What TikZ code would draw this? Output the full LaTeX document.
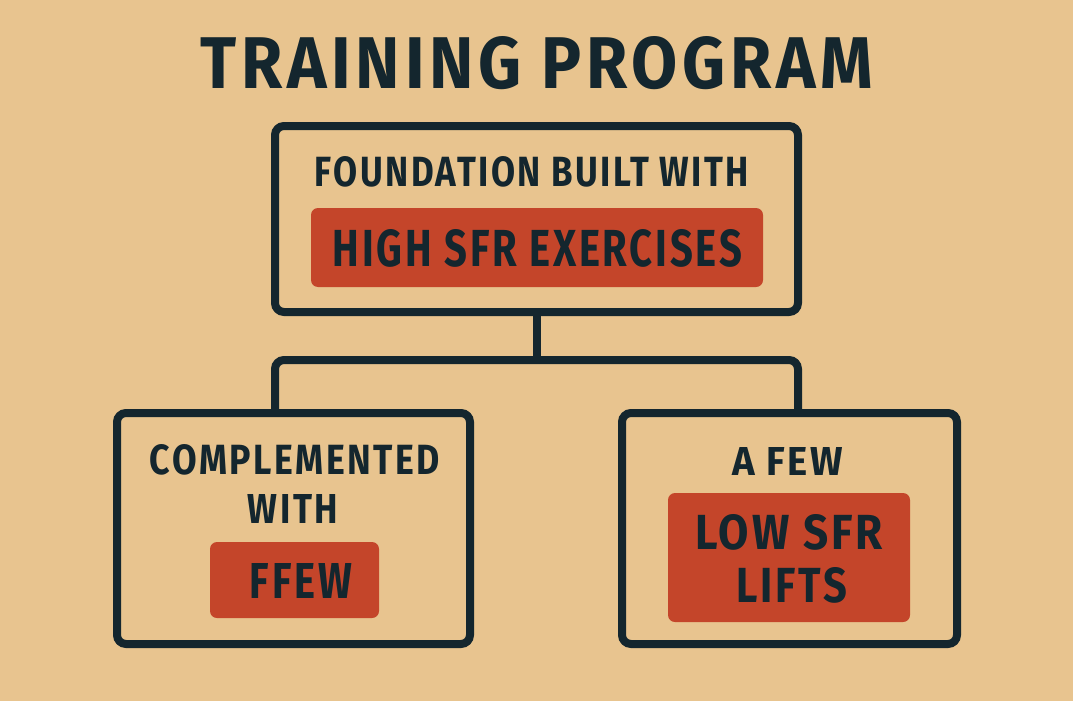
\documentclass[tikz,border=0pt]{standalone}
\usepackage{fontspec}
\setmainfont{Fira Sans}[BoldFont={Fira Sans Bold}]
\newfontfamily\spacedbold[LetterSpace=7]{Fira Sans Bold}
\usepackage{graphicx}
\definecolor{bg}{HTML}{E8C48F}
\definecolor{ink}{HTML}{14262E}
\definecolor{accent}{HTML}{C4452A}
\newcommand\fitline[3]{\resizebox{#1pt}{#2pt}{\spacedbold #3}}
\tikzset{
  frame/.style={draw=ink, line width=8pt, rounded corners=9pt, inner sep=0pt},
  hl/.style={fill=accent, draw=none, rounded corners=7pt, inner sep=0pt},
  txt/.style={inner sep=0pt, outer sep=0pt, text=ink, anchor=center},
  conn/.style={draw=ink, line width=8pt, rounded corners=9pt}
}
\begin{document}
\begin{tikzpicture}[x=1pt,y=-1pt]
\useasboundingbox[fill=bg] (0,0) rectangle (1073,701);
% boxes
\node[frame, minimum width=523pt, minimum height=186pt] (top) at (536.5,219) {};
\node[frame, minimum width=353pt, minimum height=231pt] (lb) at (293.5,528.5) {};
\node[frame, minimum width=335pt, minimum height=231pt] (rb) at (789.5,528.5) {};
% highlight boxes
\node[hl, minimum width=452pt, minimum height=79pt] (thl) at (537,247.5) {};
\node[hl, minimum width=169pt, minimum height=76pt] (lhl) at (294.5,580) {};
\node[hl, minimum width=242pt, minimum height=129pt] (rhl) at (789,557.5) {};
% connectors
\coordinate (jl) at (275,360);
\coordinate (jr) at (798,360);
\draw[conn] (top.south) -- (top.south |- jl);
\draw[conn] (lb.north -| jl) |- (jr) -- (rb.north -| jr);
% texts
\node[txt] (title) at (537,63) {\fitline{672}{52}{TRAINING PROGRAM}};
\node[txt] (t1) at (532,172) {\fitline{434}{30}{FOUNDATION BUILT WITH}};
\node[txt] (t2) at (537.5,248.5) {\fitline{409}{37}{HIGH SFR EXERCISES}};
\node[txt] (l1) at (295,460) {\fitline{290}{30}{COMPLEMENTED}};
\node[txt] (l2) at (293,509) {\fitline{90}{29}{WITH}};
\node[txt] (l3) at (301,580.5) {\fitline{102}{35}{FFEW}};
\node[txt] (r1) at (787.5,461) {\fitline{111}{28}{A FEW}};
\node[txt] (r2) at (789,532.5) {\fitline{188}{35}{LOW SFR}};
\node[txt] (r3) at (791.5,585.5) {\fitline{111}{35}{LIFTS}};
\end{tikzpicture}
\end{document}
